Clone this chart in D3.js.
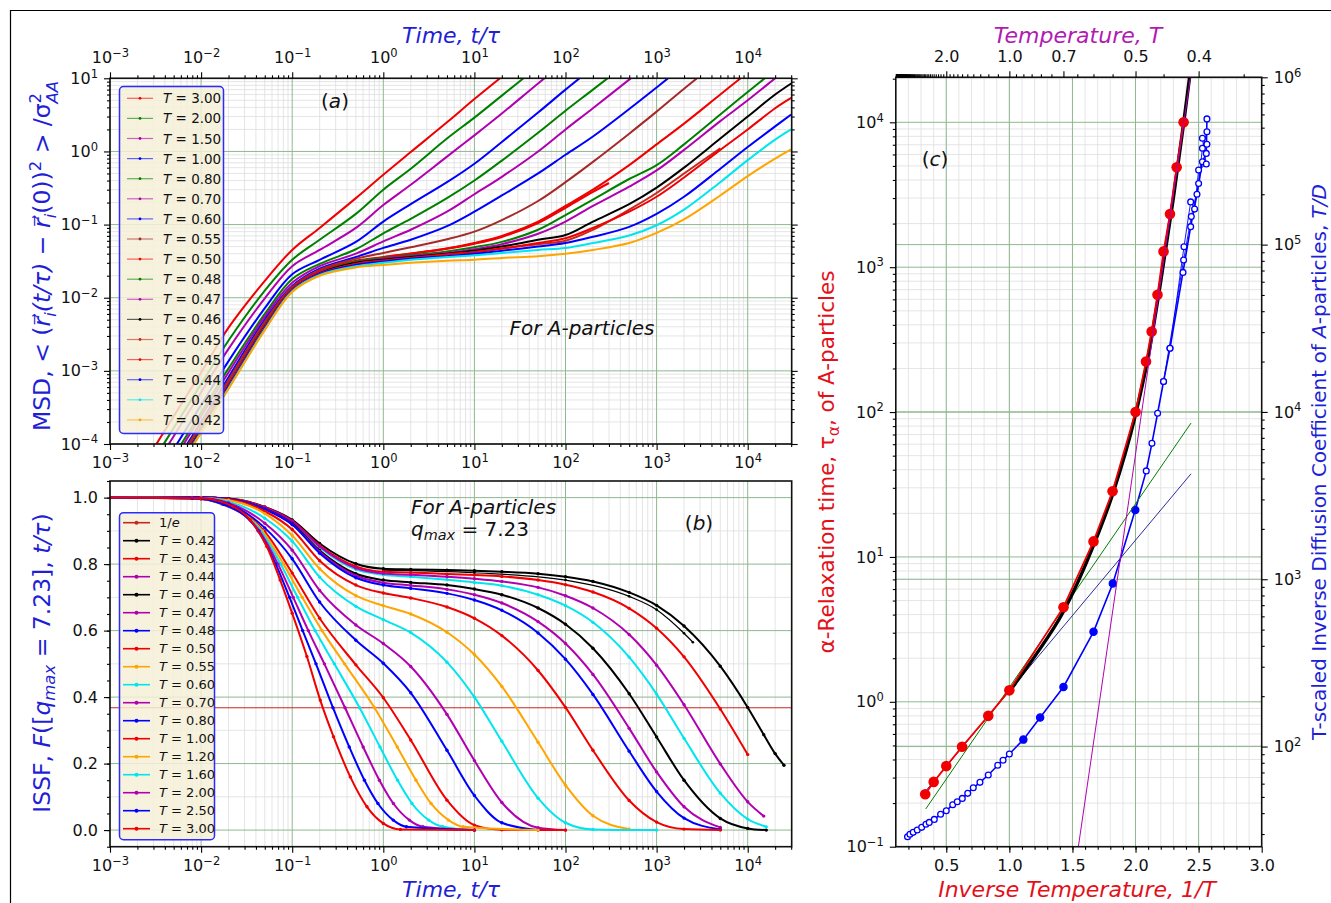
<!DOCTYPE html>
<html>
<head>
<meta charset="utf-8">
<script src="https://cdn.jsdelivr.net/npm/d3@7"></script>
<style>
  body { margin: 0; background: #fff; }
  svg { display: block; font-family: "DejaVu Sans", sans-serif; }
</style>
</head>
<body>
<svg id="fig" width="1331" height="903"></svg>
<script>
/* ---------- panel (a): mean square displacement ---------- */
const msdTime = [0.003, 0.005, 0.01, 0.02, 0.05, 0.1, 0.2, 0.5, 1, 2, 5, 10, 20, 50, 100, 200, 500, 1000, 2000, 5000, 10000, 20000, 30000];
const msdTemps = ['3.00', '2.00', '1.50', '1.00', '0.80', '0.70', '0.60', '0.55', '0.50', '0.48', '0.47', '0.46', '0.45', '0.45', '0.44', '0.43', '0.42'];
const msd300 = [8.6e-5, 2.4e-4, 9.5e-4, 3.9e-3, 0.017, 0.045, 0.09, 0.23, 0.48, 0.98, 2.5, 5.2, 10.5];
const msd200 = [6.0e-5, 1.65e-4, 6.6e-4, 2.6e-3, 0.0125, 0.033, 0.062, 0.14, 0.30, 0.58, 1.5, 2.9, 5.8, 14.5];
const msd150 = [4.6e-5, 1.28e-4, 5.1e-4, 2.0e-3, 0.0098, 0.027, 0.045, 0.09, 0.185, 0.35, 0.85, 1.66, 3.3, 8.5, 17];
const msd100 = [3.1e-5, 8.5e-5, 3.4e-4, 1.36e-3, 0.0072, 0.021, 0.033, 0.058, 0.11, 0.19, 0.38, 0.68, 1.35, 3.4, 7.0, 14];
const msd080 = [2.4e-5, 6.8e-5, 2.7e-4, 1.08e-3, 0.006, 0.018, 0.029, 0.046, 0.076, 0.12, 0.23, 0.40, 0.75, 1.8, 3.6, 7.0, 17];
const msd070 = [2.1e-5, 6.0e-5, 2.4e-4, 9.5e-4, 0.0055, 0.016, 0.027, 0.040, 0.059, 0.085, 0.15, 0.26, 0.45, 1.0, 2.0, 3.9, 9.6, 19];
const msd060 = [1.8e-5, 5.1e-5, 2.0e-4, 8.2e-4, 0.005, 0.0145, 0.025, 0.036, 0.048, 0.062, 0.095, 0.15, 0.25, 0.5, 0.9, 1.6, 3.8, 7.5, 15];
const msd055 = [1.7e-5, 4.7e-5, 1.87e-4, 7.5e-4, 0.0047, 0.014, 0.024, 0.034, 0.041, 0.049, 0.063, 0.08, 0.115, 0.21, 0.38, 0.72, 1.75, 3.5, 7.2, 18];
const msd050 = [1.5e-5, 4.25e-5, 1.7e-4, 6.8e-4, 0.0044, 0.0135, 0.023, 0.032, 0.036, 0.040, 0.047, 0.056, 0.07, 0.11, 0.18, 0.3, 0.65, 1.25, 2.4, 6.0, 12];
const msd048 = [1.47e-5, 4.1e-5, 1.63e-4, 6.5e-4, 0.0042, 0.013, 0.022, 0.031, 0.035, 0.038, 0.043, 0.049, 0.058, 0.085, 0.135, 0.22, 0.42, 0.65, 1.25, 3.2, 6.5, 13];
const msd047 = [1.44e-5, 4.0e-5, 1.6e-4, 6.4e-4, 0.0041, 0.013, 0.022, 0.030, 0.034, 0.037, 0.041, 0.046, 0.054, 0.075, 0.11, 0.18, 0.33, 0.55, 1.05, 2.6, 5.0, 10, 15];
const msd046 = [1.4e-5, 3.9e-5, 1.56e-4, 6.2e-4, 0.004, 0.0128, 0.0215, 0.030, 0.033, 0.036, 0.040, 0.044, 0.050, 0.062, 0.072, 0.11, 0.19, 0.32, 0.6, 1.5, 3.0, 6.0, 8.5];
const msd045a = [1.38e-5, 3.8e-5, 1.53e-4, 6.1e-4, 0.0039, 0.0127, 0.0212, 0.029, 0.032, 0.035, 0.039, 0.042, 0.047, 0.054, 0.060, 0.085, 0.16, 0.27, 0.5, 1.1];
const msd045b = [1.38e-5, 3.8e-5, 1.53e-4, 6.1e-4, 0.0039, 0.0127, 0.0212, 0.029, 0.032, 0.035, 0.039, 0.042, 0.047, 0.056, 0.065, 0.09, 0.15, 0.24, 0.44, 1.05, 2.0, 3.9, 5.4];
const msd044 = [1.35e-5, 3.75e-5, 1.5e-4, 6.0e-4, 0.0038, 0.0125, 0.021, 0.028, 0.031, 0.034, 0.037, 0.040, 0.044, 0.050, 0.056, 0.068, 0.093, 0.14, 0.24, 0.58, 1.15, 2.2, 3.2];
const msd043 = [1.31e-5, 3.65e-5, 1.46e-4, 5.8e-4, 0.0037, 0.0123, 0.0205, 0.027, 0.030, 0.033, 0.036, 0.038, 0.041, 0.045, 0.048, 0.056, 0.071, 0.098, 0.16, 0.38, 0.76, 1.45, 2.0];
const msd042 = [1.29e-5, 3.6e-5, 1.43e-4, 5.7e-4, 0.0036, 0.012, 0.020, 0.026, 0.028, 0.030, 0.032, 0.033, 0.035, 0.037, 0.040, 0.045, 0.056, 0.077, 0.118, 0.25, 0.46, 0.8, 1.07];
const msdSeries = [msd300, msd200, msd150, msd100, msd080, msd070, msd060, msd055, msd050, msd048, msd047, msd046, msd045a, msd045b, msd044, msd043, msd042];
// a shorter second run at T = 0.50
const msdRunTime = [1, 2, 5, 10, 20, 50, 100, 200, 300];
const msdRun050 = [0.036, 0.040, 0.047, 0.055, 0.068, 0.105, 0.17, 0.28, 0.37];

/* ---------- panel (b): intermediate scattering function, [t, F] pairs ---------- */
const issfTemps = ['0.42', '0.43', '0.44', '0.46', '0.47', '0.48', '0.50', '0.55', '0.60', '0.70', '0.80', '1.00', '1.20', '1.60', '2.00', '2.50', '3.00'];
const issf042 = [[0.001, 1], [0.01, 1.0], [0.02, 0.997], [0.05, 0.972], [0.1, 0.933], [0.2, 0.862], [0.5, 0.801], [1, 0.786], [2, 0.784], [5, 0.782], [10, 0.780], [20, 0.777], [50, 0.771], [100, 0.762], [200, 0.748], [500, 0.715], [1000, 0.676], [2000, 0.614], [5000, 0.493], [10000, 0.369], [15000, 0.287], [20000, 0.230], [25000, 0.195]];
const issf043 = [[0.001, 1], [0.01, 1.0], [0.02, 0.997], [0.05, 0.971], [0.1, 0.930], [0.2, 0.856], [0.5, 0.793], [1, 0.777], [2, 0.775], [5, 0.770], [10, 0.767], [20, 0.763], [50, 0.752], [100, 0.738], [200, 0.716], [500, 0.667], [1000, 0.607], [2000, 0.521], [5000, 0.364], [10000, 0.227]];
const issf044 = [[0.001, 1], [0.01, 1.0], [0.02, 0.996], [0.05, 0.970], [0.1, 0.929], [0.2, 0.853], [0.5, 0.788], [1, 0.772], [2, 0.768], [5, 0.762], [10, 0.756], [20, 0.748], [50, 0.730], [100, 0.705], [200, 0.668], [500, 0.588], [1000, 0.496], [2000, 0.377], [5000, 0.199], [10000, 0.085], [15000, 0.042]];
const issf046 = [[0.001, 1], [0.01, 1.0], [0.02, 0.996], [0.05, 0.967], [0.1, 0.922], [0.2, 0.841], [0.5, 0.771], [1, 0.752], [2, 0.745], [5, 0.737], [10, 0.725], [20, 0.708], [50, 0.668], [100, 0.619], [200, 0.547], [500, 0.410], [1000, 0.280], [2000, 0.150], [5000, 0.035], [10000, 0.005], [16000, 0]];
const issf047 = [[0.001, 1], [0.01, 1.0], [0.02, 0.996], [0.05, 0.966], [0.1, 0.920], [0.2, 0.837], [0.5, 0.765], [1, 0.744], [2, 0.736], [5, 0.724], [10, 0.708], [20, 0.683], [50, 0.627], [100, 0.561], [200, 0.468], [500, 0.306], [1000, 0.175], [2000, 0.070], [5000, 0.008]];
const issf048 = [[0.001, 1], [0.01, 1.0], [0.02, 0.996], [0.05, 0.965], [0.1, 0.919], [0.2, 0.833], [0.5, 0.759], [1, 0.737], [2, 0.727], [5, 0.712], [10, 0.692], [20, 0.661], [50, 0.593], [100, 0.514], [200, 0.408], [500, 0.237], [1000, 0.116], [2000, 0.036], [5000, 0.002]];
const issf050 = [[0.001, 1], [0.01, 0.999], [0.02, 0.994], [0.05, 0.959], [0.1, 0.904], [0.2, 0.810], [0.5, 0.737], [1, 0.713], [2, 0.698], [5, 0.671], [10, 0.637], [20, 0.585], [50, 0.480], [100, 0.369], [200, 0.240], [500, 0.089], [1000, 0.024], [2000, 0.003], [5000, 0]];
const issf055 = [[0.001, 1], [0.01, 0.999], [0.02, 0.992], [0.05, 0.952], [0.1, 0.886], [0.2, 0.786], [0.5, 0.705], [1, 0.675], [2, 0.650], [5, 0.595], [10, 0.528], [20, 0.432], [50, 0.264], [100, 0.135], [200, 0.043], [500, 0.003]];
const issf060 = [[0.001, 1], [0.01, 0.999], [0.02, 0.988], [0.05, 0.938], [0.1, 0.869], [0.2, 0.761], [0.5, 0.673], [1, 0.633], [2, 0.594], [5, 0.505], [10, 0.400], [20, 0.267], [50, 0.096], [100, 0.022], [200, 0.002], [1000, 0]];
const issf070 = [[0.001, 1], [0.01, 0.998], [0.02, 0.984], [0.05, 0.923], [0.1, 0.842], [0.2, 0.721], [0.5, 0.617], [1, 0.561], [2, 0.492], [5, 0.348], [10, 0.209], [20, 0.083], [50, 0.007], [100, 0]];
const issf080 = [[0.001, 1], [0.01, 0.997], [0.02, 0.981], [0.05, 0.909], [0.1, 0.816], [0.2, 0.686], [0.5, 0.571], [1, 0.502], [2, 0.413], [5, 0.240], [10, 0.104], [20, 0.022], [50, 0]];
const issf100 = [[0.001, 1], [0.01, 0.996], [0.02, 0.974], [0.05, 0.898], [0.1, 0.773], [0.2, 0.637], [0.5, 0.497], [1, 0.398], [2, 0.271], [5, 0.090], [10, 0.015], [20, 0.001], [100, 0]];
const issf120 = [[0.001, 1], [0.008, 0.998], [0.0169, 0.98], [0.047, 0.9], [0.0802, 0.8], [0.1288, 0.7], [0.2128, 0.6], [0.3758, 0.5], [0.80, 0.368], [1.422, 0.25], [2.286, 0.15], [3.342, 0.08], [5.2, 0.03], [7.53, 0.01], [50, 0]];
const issf160 = [[0.001, 1], [0.008, 0.998], [0.0171, 0.98], [0.0452, 0.9], [0.0747, 0.8], [0.1148, 0.7], [0.1783, 0.6], [0.290, 0.5], [0.549, 0.368], [0.920, 0.25], [1.432, 0.15], [2.065, 0.08], [3.155, 0.03], [4.505, 0.01], [10, 0]];
const issf200 = [[0.001, 1], [0.008, 0.998], [0.0174, 0.98], [0.0435, 0.9], [0.0698, 0.8], [0.1026, 0.7], [0.1503, 0.6], [0.2254, 0.5], [0.380, 0.368], [0.601, 0.25], [0.906, 0.15], [1.29, 0.08], [1.932, 0.03], [2.723, 0.01], [10, 0]];
const issf250 = [[0.001, 1], [0.008, 0.998], [0.0177, 0.98], [0.0422, 0.9], [0.0659, 0.8], [0.0934, 0.7], [0.1303, 0.6], [0.1824, 0.5], [0.280, 0.368], [0.4227, 0.25], [0.6209, 0.15], [0.873, 0.08], [1.285, 0.03], [1.792, 0.01], [10, 0]];
const issf300 = [[0.001, 1], [0.0098, 0.998], [0.0226, 0.973], [0.0345, 0.933], [0.0527, 0.853], [0.0738, 0.752], [0.1, 0.652], [0.145, 0.522], [0.203, 0.391], [0.284, 0.281], [0.434, 0.160], [0.662, 0.070], [1.0, 0.020], [1.54, 0.002], [10, 0]];
const issfSeries = [issf042, issf043, issf044, issf046, issf047, issf048, issf050, issf055, issf060, issf070, issf080, issf100, issf120, issf160, issf200, issf250, issf300];
// unlabeled runs: T = 0.45 and a shorter T = 0.42 run
const issf045 = [[0.001, 1], [0.01, 1.0], [0.02, 0.996], [0.05, 0.969], [0.1, 0.927], [0.2, 0.850], [0.5, 0.784], [1, 0.768], [2, 0.762], [5, 0.753], [10, 0.745], [20, 0.735], [50, 0.708], [100, 0.675], [200, 0.625], [500, 0.520], [1000, 0.409], [2000, 0.276], [5000, 0.111], [10000, 0.033], [16000, 0.010]];
const issf042b = [[1, 0.782], [10, 0.774], [100, 0.752], [500, 0.703], [1000, 0.663], [2000, 0.592], [2500, 0.565]];
const invE = 0.3679;

/* ---------- panel (c): relaxation time and T/D versus 1/T ---------- */
const tauInvT = [0.333, 0.4, 0.5, 0.625, 0.833, 1.0, 1.429, 1.667, 1.818, 2.0, 2.083, 2.128, 2.174, 2.222, 2.273, 2.326, 2.381];
const tauAlpha = [0.23, 0.28, 0.36, 0.49, 0.80, 1.20, 4.5, 12.8, 28.4, 100, 223, 360, 645, 1285, 2325, 4900, 10000];
const vftInvT = [1.0, 1.2, 1.429, 1.667, 1.818, 2.0, 2.1, 2.2, 2.3, 2.381, 2.43];
const vftTau = [1.18, 2.05, 4.2, 12, 27, 96, 240, 800, 3000, 9800, 21000];
const arrGreenInvT = [0.337, 2.44], arrGreenTau = [0.182, 84];
const arrNavyInvT = [0.333, 2.44], arrNavyTau = [0.24, 37.5];
const powInvT = [1.547, 2.435], powTau = [0.1, 20400];
const diffInvT = [0.193, 0.212, 0.238, 0.27, 0.305, 0.339, 0.365, 0.405, 0.455, 0.5, 0.551, 0.587, 0.627, 0.67, 0.714, 0.767, 0.833, 0.908, 0.95, 1.0, 1.111, 1.244, 1.429, 1.667, 1.82, 1.998, 2.085, 2.13, 2.175, 2.222, 2.273, 2.376, 2.437, 2.487, 2.53, 2.561, 2.566];
const diffTD = [28.9, 29.9, 30.7, 31.7, 32.9, 34.3, 35.2, 36.7, 39.4, 41.3, 44.9, 46.8, 49.0, 52.5, 56.7, 61.1, 67.6, 77.3, 82.8, 90.2, 110, 149, 227, 485, 944, 2590, 4440, 6490, 9820, 15200, 24000, 68200, 128000, 200000, 313000, 351000, 564000];
const diffInvT2 = [2.222, 2.381, 2.442, 2.5, 2.53, 2.566];
const diffTD2 = [15200, 80900, 147000, 232000, 377000, 473000];
const diffInvT3 = [2.273, 2.384, 2.437, 2.468, 2.5, 2.561, 2.53, 2.566];
const diffTD3 = [24000, 97100, 180000, 163000, 279000, 303000, 432000, 398000];
const tempTicks = [2.0, 1.0, 0.7, 0.5, 0.4];

/* ---------- styles ---------- */
const RED = '#f00000', GREEN = '#008000', MAG = '#b000b0', BLUE = '#0000ff', BROWN = '#a52a2a',
  BLACK = '#000000', FIRE = '#c8281e', CYAN = '#00e5ee', ORANGE = '#ffa500';
const msdColors = [RED, GREEN, MAG, BLUE, GREEN, MAG, BLUE, BROWN, RED, GREEN, MAG, BLACK, FIRE, RED, BLUE, CYAN, ORANGE];
const issfColors = [BLACK, RED, MAG, BLACK, MAG, BLUE, RED, ORANGE, CYAN, MAG, BLUE, RED, ORANGE, CYAN, MAG, BLUE, RED];
const LBLUE = '#1f1fd6', LRED = '#e3101a', LMAG = '#b21ab2';
const GRID_MAJ = '#8fb88f', GRID_MIN = '#dedede';

const svg = d3.select('#fig');
const defs = svg.append('defs');

// figure border (only its top and left edges fall inside the picture)
svg.append('path').attr('d', 'M10.5,903V10.5H1331').attr('fill', 'none').attr('stroke', '#000').attr('stroke-width', 1.2);

function clip(id, xs, ys) {
  const [x0, x1] = xs.range(), [y0, y1] = ys.range();
  defs.append('clipPath').attr('id', id).append('rect')
    .attr('x', Math.min(x0, x1)).attr('y', Math.min(y0, y1))
    .attr('width', Math.abs(x1 - x0)).attr('height', Math.abs(y1 - y0));
}
function logMajors(lo, hi) {
  const out = [];
  for (let e = Math.ceil(Math.log10(lo) - 1e-9); Math.pow(10, e) <= hi * 1.0001; e++) out.push(Math.pow(10, e));
  return out;
}
function logMinors(lo, hi) {
  const out = [];
  for (let e = Math.floor(Math.log10(lo)); e <= Math.ceil(Math.log10(hi)); e++)
    for (let k = 2; k <= 9; k++) { const v = k * Math.pow(10, e); if (v >= lo * 0.9999 && v <= hi * 1.0001) out.push(v); }
  return out;
}
function grid(g, xs, ys, xv, yv, color, w) {
  const [x0, x1] = xs.range(), [y0, y1] = ys.range();
  g.append('g').selectAll('line').data(xv).join('line')
    .attr('x1', d => xs(d)).attr('x2', d => xs(d)).attr('y1', y0).attr('y2', y1)
    .attr('stroke', color).attr('stroke-width', w);
  g.append('g').selectAll('line').data(yv).join('line')
    .attr('y1', d => ys(d)).attr('y2', d => ys(d)).attr('x1', x0).attr('x2', x1)
    .attr('stroke', color).attr('stroke-width', w);
}
function axis(parent, gen, scale, majors, minors, fmt, pad, tx, ty) {
  const a = parent.append('g').attr('transform', `translate(${tx},${ty})`);
  if (minors.length) a.append('g').call(gen(scale).tickValues(minors).tickSize(3).tickFormat(''));
  const mj = a.append('g').call(gen(scale).tickValues(majors).tickSize(6).tickPadding(pad).tickFormat(fmt || (() => '')));
  a.selectAll('.domain').remove();
  a.selectAll('line').attr('stroke', '#000').attr('stroke-width', 1.1);
  mj.attr('font-size', 16).attr('font-family', '"DejaVu Sans", sans-serif');
  mj.selectAll('text').attr('fill', '#111');
  return mj;
}
function pow10(mj) {
  mj.selectAll('text').each(function (d) {
    const e = Math.round(Math.log10(d));
    const t = d3.select(this).text(null);
    t.append('tspan').text('10');
    t.append('tspan').attr('dy', '-0.55em').attr('font-size', '0.72em').text(e < 0 ? '\u2212' + (-e) : String(e));
  });
}
function frame(g, xs, ys) {
  const [x0, x1] = xs.range(), [y0, y1] = ys.range();
  g.append('rect').attr('x', Math.min(x0, x1)).attr('y', Math.min(y0, y1))
    .attr('width', Math.abs(x1 - x0)).attr('height', Math.abs(y1 - y0))
    .attr('fill', 'none').attr('stroke', '#111').attr('stroke-width', 1.6);
}
// text made of styled pieces: {t, i (italic), dy, fs, dx}
function rich(parent, parts, attrs) {
  const t = parent.append('text');
  Object.entries(attrs).forEach(([k, v]) => t.attr(k, v));
  parts.forEach(p => {
    const s = t.append('tspan').text(p.t);
    if (p.i) s.attr('font-style', 'italic');
    if (p.dy) s.attr('dy', p.dy);
    if (p.dx) s.attr('dx', p.dx);
    if (p.fs) s.attr('font-size', p.fs);
  });
  return t;
}

/* ================= panel (a) ================= */
const xA = d3.scaleLog().domain([1e-3, 3.04e4]).range([110, 791.7]);
const yA = d3.scaleLog().domain([1e-4, 10]).range([444, 78.3]);
const gA = svg.append('g');
clip('clipA', xA, yA);
grid(gA, xA, yA, logMinors(1e-3, 3.04e4), logMinors(1e-4, 10), GRID_MIN, 0.8);
grid(gA, xA, yA, logMajors(1e-3, 3e4), logMajors(1e-4, 10), GRID_MAJ, 1);

const lineA = d3.line().x(d => xA(d[0])).y(d => yA(d[1])).curve(d3.curveCatmullRom.alpha(0.5));
const plotA = gA.append('g').attr('clip-path', 'url(#clipA)');
msdSeries.forEach((vals, k) => {
  plotA.append('path').datum(vals.map((v, i) => [msdTime[i], v]))
    .attr('d', lineA).attr('fill', 'none').attr('stroke', msdColors[k]).attr('stroke-width', 2);
  if (k === 8) {
    plotA.append('path').datum(msdRun050.map((v, i) => [msdRunTime[i], v]))
      .attr('d', lineA).attr('fill', 'none').attr('stroke', RED).attr('stroke-width', 2.2);
  }
});
frame(gA, xA, yA);
pow10(axis(gA, d3.axisBottom, xA, logMajors(1e-3, 3e4), logMinors(1e-3, 3.04e4), null, 7, 0, 444));
pow10(axis(gA, d3.axisTop, xA, logMajors(1e-3, 3e4), logMinors(1e-3, 3.04e4), null, 9, 0, 78.3));
pow10(axis(gA, d3.axisLeft, yA, logMajors(1e-4, 10), logMinors(1e-4, 10), null, 6, 110, 0));
axis(gA, d3.axisRight, yA, logMajors(1e-4, 10), logMinors(1e-4, 10), null, 6, 791.7, 0);

// legend (a)
const legA = gA.append('g');
legA.append('rect').attr('x', 119.5).attr('y', 86.5).attr('width', 104).attr('height', 347).attr('rx', 4)
  .attr('fill', '#f5f0d8').attr('fill-opacity', 0.85).attr('stroke', '#2b2bff').attr('stroke-width', 1.5);
msdTemps.forEach((T, i) => {
  const y = 98.3 + i * 20.1;
  legA.append('line').attr('x1', 127).attr('x2', 153).attr('y1', y).attr('y2', y)
    .attr('stroke', msdColors[i]).attr('stroke-width', 1.2).attr('stroke-opacity', 0.6);
  legA.append('circle').attr('cx', 140).attr('cy', y).attr('r', 1.4).attr('fill', msdColors[i]);
  rich(legA, [{ t: 'T', i: true }, { t: ' = ' + T }], { x: 163, y: y + 5, 'font-size': 13.5, fill: '#111' });
});
rich(gA, [{ t: '(' }, { t: 'a', i: true }, { t: ')' }], { x: 335, y: 108, 'text-anchor': 'middle', 'font-size': 20, fill: '#111' });
gA.append('text').attr('x', 582).attr('y', 335).attr('text-anchor', 'middle').attr('font-size', 20)
  .attr('font-style', 'italic').attr('fill', '#111').text('For A-particles');
gA.append('text').attr('x', 451).attr('y', 43).attr('text-anchor', 'middle').attr('font-size', 22)
  .attr('font-style', 'italic').attr('fill', LBLUE).text('Time, t/\u03c4');
rich(gA, [
  { t: 'MSD, < (' }, { t: 'r\u20d7', i: true }, { t: 'i', i: true, dy: '0.35em', fs: '0.7em' },
  { t: '(t/\u03c4)', i: true, dy: '-0.25em' }, { t: ' \u2212 ' }, { t: 'r\u20d7', i: true },
  { t: 'i', i: true, dy: '0.35em', fs: '0.7em' }, { t: '(0))', dy: '-0.25em' },
  { t: '2', dy: '-0.55em', fs: '0.7em' }, { t: ' > /\u03c3', dy: '0.39em' },
  { t: '2', dy: '-0.55em', fs: '0.7em' }, { t: 'AA', i: true, dx: '-0.64em', dy: '1.05em', fs: '0.7em' }
], { transform: 'translate(50,256) rotate(-90)', 'text-anchor': 'middle', 'font-size': 23.5, fill: LBLUE });

/* ================= panel (b) ================= */
const xB = d3.scaleLog().domain([1e-3, 3.04e4]).range([110, 791.7]);
const yB = d3.scaleLinear().domain([-0.05, 1.05]).range([846.7, 481]);
const gB = svg.append('g');
clip('clipB', xB, yB);
grid(gB, xB, yB, logMinors(1e-3, 3.04e4), d3.range(0.1, 1.01, 0.2), GRID_MIN, 0.8);
grid(gB, xB, yB, logMajors(1e-3, 3e4), d3.range(0, 1.01, 0.2), GRID_MAJ, 1);

const lineB = d3.line().x(d => xB(d[0])).y(d => yB(d[1])).curve(d3.curveMonotoneX);
const plotB = gB.append('g').attr('clip-path', 'url(#clipB)');
plotB.append('line').attr('x1', 110).attr('x2', 791.7).attr('y1', yB(invE)).attr('y2', yB(invE))
  .attr('stroke', FIRE).attr('stroke-width', 1);
function issfCurve(data, color, w, r) {
  plotB.append('path').datum(data).attr('d', lineB).attr('fill', 'none').attr('stroke', color).attr('stroke-width', w);
  plotB.append('g').selectAll('circle').data(data).join('circle')
    .attr('cx', d => xB(d[0])).attr('cy', d => yB(d[1])).attr('r', r).attr('fill', color);
}
issfCurve(issf045, CYAN, 2, 1.6);
issfCurve(issf042b, BLACK, 1.2, 1.3);
issfSeries.forEach((data, k) => issfCurve(data, issfColors[k], 2, 1.7));
frame(gB, xB, yB);
pow10(axis(gB, d3.axisBottom, xB, logMajors(1e-3, 3e4), logMinors(1e-3, 3.04e4), null, 7, 0, 846.7));
axis(gB, d3.axisLeft, yB, d3.range(0, 1.01, 0.2), d3.range(-0.05, 1.051, 0.05), d => d.toFixed(1), 6, 110, 0);

// legend (b)
const legB = gB.append('g');
legB.append('rect').attr('x', 119.5).attr('y', 512.7).attr('width', 95).attr('height', 327).attr('rx', 4)
  .attr('fill', '#f5f0d8').attr('fill-opacity', 0.85).attr('stroke', '#2b2bff').attr('stroke-width', 1.5);
[['1/e', FIRE]].concat(issfTemps.map((T, i) => [T, issfColors[i]])).forEach(([lab, col], i) => {
  const y = 522.7 + i * 18;
  legB.append('line').attr('x1', 123).attr('x2', 150).attr('y1', y).attr('y2', y).attr('stroke', col).attr('stroke-width', 1.6);
  legB.append('circle').attr('cx', 136.5).attr('cy', y).attr('r', 2).attr('fill', col);
  const parts = i === 0 ? [{ t: '1/' }, { t: 'e', i: true }] : [{ t: 'T', i: true }, { t: ' = ' + lab }];
  rich(legB, parts, { x: 159, y: y + 4.5, 'font-size': 13, fill: '#111' });
});
gB.append('text').attr('x', 411).attr('y', 514).attr('font-size', 20).attr('font-style', 'italic')
  .attr('fill', '#111').text('For A-particles');
rich(gB, [{ t: 'q', i: true }, { t: 'max', i: true, dy: '0.3em', fs: '0.72em' }, { t: ' = 7.23', dy: '-0.22em' }],
  { x: 411, y: 536, 'font-size': 20, fill: '#111' });
rich(gB, [{ t: '(' }, { t: 'b', i: true }, { t: ')' }], { x: 699, y: 530, 'text-anchor': 'middle', 'font-size': 20, fill: '#111' });
gB.append('text').attr('x', 451).attr('y', 897).attr('text-anchor', 'middle').attr('font-size', 22)
  .attr('font-style', 'italic').attr('fill', LBLUE).text('Time, t/\u03c4');
rich(gB, [
  { t: 'ISSF, ' }, { t: 'F', i: true }, { t: '([' }, { t: 'q', i: true },
  { t: 'max', i: true, dy: '0.3em', fs: '0.7em' }, { t: ' = 7.23', dy: '-0.21em' }, { t: '], ' },
  { t: 't/\u03c4', i: true }, { t: ')' }
], { transform: 'translate(50,663) rotate(-90)', 'text-anchor': 'middle', 'font-size': 23.5, fill: LBLUE });

/* ================= panel (c) ================= */
const xC = d3.scaleLinear().domain([0.1, 3.0]).range([895.8, 1261.7]);
const yC = d3.scaleLog().domain([0.1, 20450]).range([846.7, 77.3]);
const yR = d3.scaleLog().domain([25.2, 1e6]).range([846.7, 77.3]);
const gC = svg.append('g');
clip('clipC', xC, yC);
grid(gC, xC, yC, d3.range(0.2, 2.95, 0.1), logMinors(0.1, 20450), GRID_MIN, 0.8);
grid(gC, xC, yC, [0.5, 1.0, 1.5, 2.0, 2.5], logMajors(0.1, 20450), GRID_MAJ, 1);
grid(gC, xC, yR, [], logMajors(100, 1e6), GRID_MAJ, 1);

const plotC = gC.append('g').attr('clip-path', 'url(#clipC)');
const lineL = d3.line().x(d => xC(d[0])).y(d => yC(d[1]));
const lineR = d3.line().x(d => xC(d[0])).y(d => yR(d[1]));
const zip = (a, b) => a.map((v, i) => [v, b[i]]);

// diffusion data (right axis)
plotC.append('path').datum(zip(diffInvT2, diffTD2)).attr('d', lineR).attr('fill', 'none').attr('stroke', BLUE).attr('stroke-width', 0.9);
plotC.append('path').datum(zip(diffInvT3, diffTD3)).attr('d', lineR).attr('fill', 'none').attr('stroke', BLUE).attr('stroke-width', 0.9);
plotC.append('path').datum(zip(diffInvT, diffTD)).attr('d', lineR).attr('fill', 'none').attr('stroke', BLUE).attr('stroke-width', 1.6);
const diffPts = zip(diffInvT, diffTD).concat(zip(diffInvT2, diffTD2), zip(diffInvT3, diffTD3));
plotC.append('g').selectAll('circle').data(diffPts).join('circle')
  .attr('cx', d => xC(d[0])).attr('cy', d => yR(d[1]))
  .attr('r', d => (d[0] > 1.05 && d[0] < 2.05) ? 3.6 : 2.9)
  .attr('fill', d => (d[0] > 1.05 && d[0] < 2.05) ? BLUE : '#fff')
  .attr('stroke', BLUE).attr('stroke-width', 1.3);

// fits and relaxation times (left axis)
plotC.append('path').datum(zip(arrGreenInvT, arrGreenTau)).attr('d', lineL).attr('fill', 'none').attr('stroke', GREEN).attr('stroke-width', 1);
plotC.append('path').datum(zip(arrNavyInvT, arrNavyTau)).attr('d', lineL).attr('fill', 'none').attr('stroke', '#2c2c9c').attr('stroke-width', 1);
plotC.append('path').datum(zip(vftInvT, vftTau)).attr('d', lineL.curve(d3.curveMonotoneX)).attr('fill', 'none').attr('stroke', BLACK).attr('stroke-width', 3.4);
lineL.curve(d3.curveLinear);
plotC.append('path').datum(zip(tauInvT, tauAlpha)).attr('d', lineL).attr('fill', 'none').attr('stroke', RED).attr('stroke-width', 1.8);
plotC.append('g').selectAll('circle').data(zip(tauInvT, tauAlpha)).join('circle')
  .attr('cx', d => xC(d[0])).attr('cy', d => yC(d[1])).attr('r', 5.3).attr('fill', RED);
plotC.append('path').datum(zip(powInvT, powTau)).attr('d', lineL).attr('fill', 'none').attr('stroke', MAG).attr('stroke-width', 1);

frame(gC, xC, yC);
axis(gC, d3.axisBottom, xC, [0.5, 1.0, 1.5, 2.0, 2.5, 3.0], d3.range(0.2, 2.95, 0.1), d => d.toFixed(1), 7, 0, 846.7);
pow10(axis(gC, d3.axisLeft, yC, logMajors(0.1, 20450), logMinors(0.1, 20450), null, 6, 895.8, 0));
pow10(axis(gC, d3.axisRight, yR, logMajors(100, 1e6), logMinors(25.2, 1e6), null, 6, 1261.7, 0));
const tMinor = d3.range(0.35, 0.99, 0.05).concat(d3.range(1.1, 10.01, 0.1))
  .filter(t => !tempTicks.some(m => Math.abs(m - t) < 1e-6)).map(t => 1 / t).filter(v => v >= 0.1 && v <= 3.0);
axis(gC, d3.axisTop, xC, tempTicks.map(t => 1 / t), tMinor, d => (1 / d).toFixed(1), 9, 0, 77.3);

rich(gC, [{ t: '(' }, { t: 'c', i: true }, { t: ')' }], { x: 935, y: 166, 'text-anchor': 'middle', 'font-size': 20, fill: '#111' });
gC.append('text').attr('x', 1078).attr('y', 43).attr('text-anchor', 'middle').attr('font-size', 22)
  .attr('font-style', 'italic').attr('fill', LMAG).text('Temperature, T');
gC.append('text').attr('x', 1077).attr('y', 897).attr('text-anchor', 'middle').attr('font-size', 22)
  .attr('font-style', 'italic').attr('fill', LRED).text('Inverse Temperature, 1/T');
rich(gC, [
  { t: '\u03b1-Relaxation time, \u03c4' }, { t: '\u03b1', dy: '0.3em', fs: '0.7em' }, { t: ', of A-particles', dy: '-0.21em' }
], { transform: 'translate(834,462) rotate(-90)', 'text-anchor': 'middle', 'font-size': 21.5, fill: LRED });
rich(gC, [
  { t: 'T-scaled Inverse Diffusion Coefficient of ' }, { t: 'A', i: true }, { t: '-particles, ' }, { t: 'T/D', i: true }
], { transform: 'translate(1326,462) rotate(-90)', 'text-anchor': 'middle', 'font-size': 20, fill: LBLUE });
</script>
</body>
</html>
